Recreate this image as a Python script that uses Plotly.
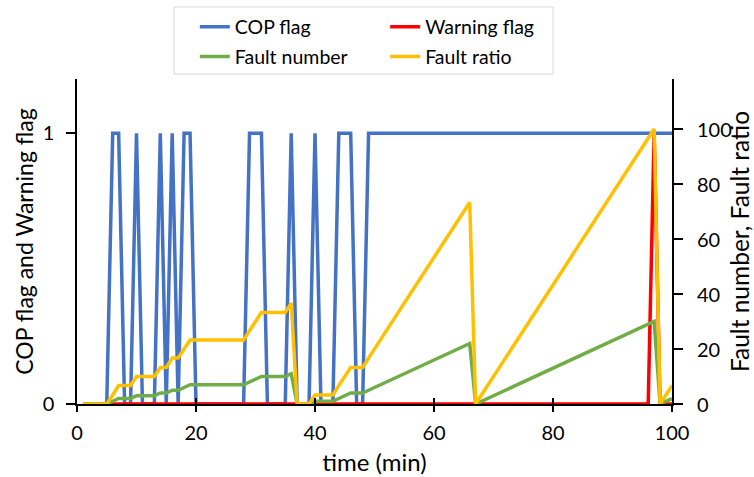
import plotly.graph_objects as go

# Sample times (min)
time_min = list(range(1, 101))

# COP flag per sample (0/1)
cop_flag = (
    [0, 0, 0, 0, 0, 1, 1, 0, 0, 1]
    + [0, 0, 0, 1, 0, 1, 0, 1, 1, 0]
    + [0, 0, 0, 0, 0, 0, 0, 0, 1, 1]
    + [1, 0, 0, 0, 0, 1, 0, 0, 0, 1]
    + [0, 0, 0, 1, 1, 1, 0, 0, 1, 1]
    + [1] * 50
)

# Warning flag per sample (0/1)
warning_flag = [0] * 96 + [1] + [0] * 3

# Fault count inside the current 30-sample window
fault_number = (
    [0, 0, 0, 0, 0, 1, 2, 2, 2, 3]
    + [3, 3, 3, 4, 4, 5, 5, 6, 7, 7]
    + [7, 7, 7, 7, 7, 7, 7, 7, 8, 9]
    + [10, 10, 10, 10, 10, 11, 0, 0, 0, 1]
    + [1, 1, 1, 2, 3, 4, 4, 4, 5, 6]
    + [7, 8, 9, 10, 11, 12, 13, 14, 15, 16]
    + [17, 18, 19, 20, 21, 22, 0, 1, 2, 3]
    + [4, 5, 6, 7, 8, 9, 10, 11, 12, 13]
    + [14, 15, 16, 17, 18, 19, 20, 21, 22, 23]
    + [24, 25, 26, 27, 28, 29, 30, 0, 1, 2]
)

# Fault ratio (%) of the 30-sample window
fault_ratio = (
    [0, 0, 0, 0, 0, 3.3, 6.7, 6.7, 6.7, 10]
    + [10, 10, 10, 13.3, 13.3, 16.7, 16.7, 20, 23.3, 23.3]
    + [23.3, 23.3, 23.3, 23.3, 23.3, 23.3, 23.3, 23.3, 26.7, 30]
    + [33.3, 33.3, 33.3, 33.3, 33.3, 36.7, 0, 0, 0, 3.3]
    + [3.3, 3.3, 3.3, 6.7, 10, 13.3, 13.3, 13.3, 16.7, 20]
    + [23.3, 26.7, 30, 33.3, 36.7, 40, 43.3, 46.7, 50, 53.3]
    + [56.7, 60, 63.3, 66.7, 70, 73.3, 0, 3.3, 6.7, 10]
    + [13.3, 16.7, 20, 23.3, 26.7, 30, 33.3, 36.7, 40, 43.3]
    + [46.7, 50, 53.3, 56.7, 60, 63.3, 66.7, 70, 73.3, 76.7]
    + [80, 83.3, 86.7, 90, 93.3, 96.7, 100, 0, 3.3, 6.7]
)

x_ticks = [0, 20, 40, 60, 80, 100]
left_ticks = [0, 1]
right_ticks = [0, 20, 40, 60, 80, 100]

FONT = "Lato"
LW = 3.5

fig = go.Figure()
fig.add_trace(go.Scatter(x=time_min, y=cop_flag, name="COP flag", mode="lines",
                         line=dict(color="#4472C4", width=LW), legend="legend"))
fig.add_trace(go.Scatter(x=time_min, y=warning_flag, name="Warning flag", mode="lines",
                         line=dict(color="#FF0000", width=LW), legend="legend2"))
fig.add_trace(go.Scatter(x=time_min, y=fault_number, name="Fault number", mode="lines",
                         line=dict(color="#70AD47", width=LW), yaxis="y2", legend="legend3"))
fig.add_trace(go.Scatter(x=time_min, y=fault_ratio, name="Fault ratio", mode="lines",
                         line=dict(color="#FFC000", width=LW), yaxis="y2", legend="legend4"))

tick_font = dict(family=FONT, size=20, color="black")
axis_common = dict(showgrid=False, zeroline=False, showline=True, linecolor="black",
                   linewidth=1.5, tickcolor="black", tickwidth=1.5, automargin=False,
                   tickfont=tick_font)

legend_common = dict(orientation="v", yanchor="middle", xanchor="left",
                     bgcolor="rgba(0,0,0,0)", borderwidth=0,
                     font=dict(family=FONT, size=19.5, color="black"))

# right-axis tick labels, placed on the secondary y scale with a wider gap from the axis
right_labels = [dict(x=1, xref="paper", y=v, yref="y2", text=str(v), showarrow=False,
                     xanchor="left", yanchor="middle", xshift=23, font=tick_font)
                for v in right_ticks]

fig.update_layout(
    width=754, height=477,
    margin=dict(l=77, r=82, t=79, b=73, autoexpand=False),
    paper_bgcolor="white", plot_bgcolor="white",
    xaxis=dict(range=[0, 100], tickvals=x_ticks, ticks="outside", ticklen=6,
               ticklabelstandoff=4,
               title=dict(text="time (min)", font=dict(family=FONT, size=24, color="black"),
                          standoff=11),
               **axis_common),
    xaxis3=dict(range=[0, 100], tickvals=x_ticks, ticks="inside", ticklen=6,
                overlaying="x", anchor="y", side="bottom", showticklabels=False,
                showline=False, showgrid=False, zeroline=False, tickcolor="black",
                tickwidth=1.5),
    yaxis=dict(range=[0, 1.2], tickvals=left_ticks, ticks="outside", ticklen=9,
               ticklabelstandoff=8,
               title=dict(text="COP flag and Warning flag",
                          font=dict(family=FONT, size=23, color="black"), standoff=3),
               **axis_common),
    yaxis2=dict(range=[0, 118.2], tickvals=right_ticks, showticklabels=False,
                ticks="outside", ticklen=9,
                overlaying="y", side="right", anchor="x",
                title=dict(text="Fault number, Fault ratio",
                           font=dict(family=FONT, size=24.5, color="black"), standoff=50),
                **axis_common),
    legend=dict(x=0.198, y=1.160, **legend_common),
    legend2=dict(x=0.518, y=1.160, **legend_common),
    legend3=dict(x=0.198, y=1.068, **legend_common),
    legend4=dict(x=0.518, y=1.068, **legend_common),
    annotations=right_labels,
    shapes=[dict(type="rect", xref="paper", yref="paper", x0=0.163, x1=0.80,
                 y0=1.015, y1=1.2215, line=dict(color="#D9D9D9", width=1),
                 fillcolor="rgba(0,0,0,0)", layer="below")],
)

# overlay axis carrying the inward half of the crossing x ticks
fig.add_trace(go.Scatter(x=[None], y=[None], xaxis="x3", showlegend=False, hoverinfo="skip"))

fig.write_html("out.html")
